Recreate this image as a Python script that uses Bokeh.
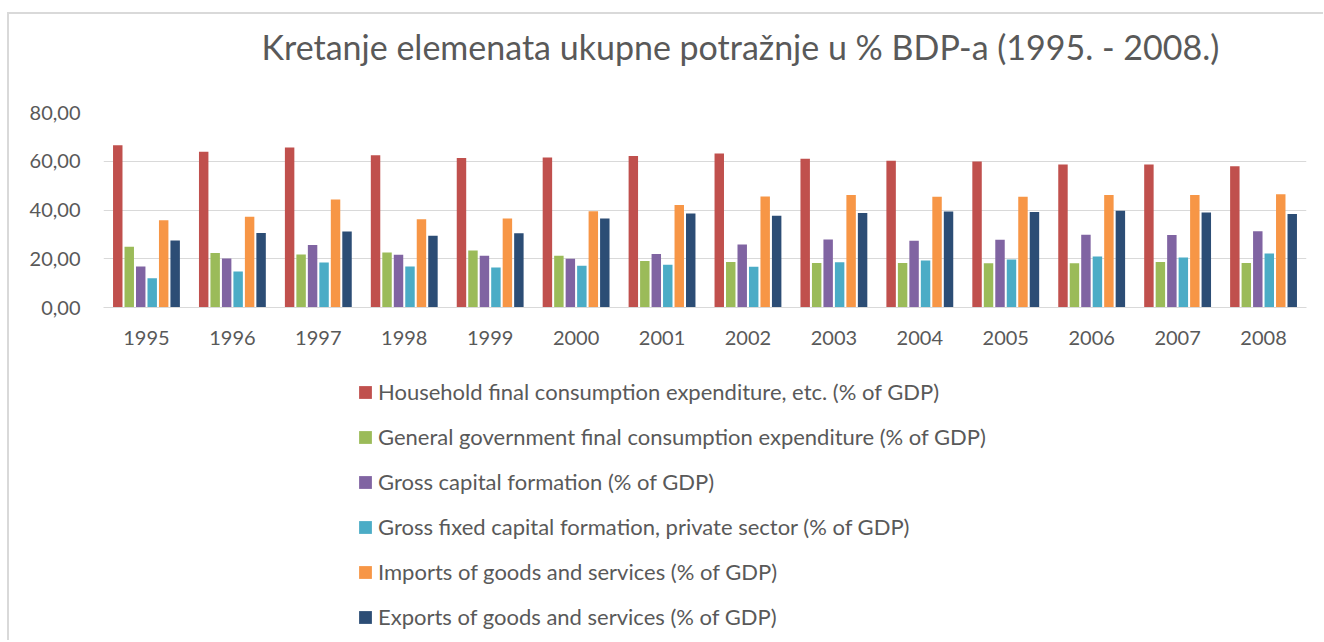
from bokeh.plotting import figure
from bokeh.layouts import column
from bokeh.models import (ColumnDataSource, FactorRange, Range1d, Legend, LegendItem,
                          FixedTicker, CustomJSTickFormatter, Title)
from bokeh.transform import dodge
from bokeh.embed import file_html
from bokeh.resources import INLINE

years = ["1995", "1996", "1997", "1998", "1999", "2000", "2001",
         "2002", "2003", "2004", "2005", "2006", "2007", "2008"]

household = [66.6, 63.9, 65.6, 62.5, 61.3, 61.5, 62.2, 63.2, 61.0, 60.2, 59.9, 58.7, 58.7, 58.0]
government = [24.9, 22.4, 21.7, 22.6, 23.4, 21.2, 19.1, 18.7, 18.3, 18.3, 18.2, 18.2, 18.7, 18.3]
gross_capital = [16.8, 20.1, 25.6, 21.6, 21.2, 20.0, 22.0, 25.8, 27.9, 27.4, 27.8, 29.8, 29.7, 31.3]
gross_fixed_private = [12.0, 14.8, 18.5, 16.8, 16.4, 17.1, 17.5, 16.7, 18.6, 19.3, 19.7, 20.9, 20.5, 22.2]
imports = [35.8, 37.2, 44.3, 36.2, 36.5, 39.5, 42.1, 45.5, 46.2, 45.4, 45.4, 46.2, 46.2, 46.5]
exports = [27.5, 30.6, 31.2, 29.4, 30.5, 36.5, 38.6, 37.6, 38.8, 39.4, 39.2, 39.7, 39.0, 38.4]

series_names = [
    "Household final consumption expenditure, etc. (% of GDP)",
    "General government final consumption expenditure (% of GDP)",
    "Gross capital formation (% of GDP)",
    "Gross fixed capital formation, private sector (% of GDP)",
    "Imports of goods and services (% of GDP)",
    "Exports of goods and services (% of GDP)",
]
series_keys = ["household", "government", "gross_capital", "gross_fixed_private", "imports", "exports"]
colors = ["#C0504D", "#9BBB59", "#8064A2", "#4BACC6", "#F79646", "#2C4D75"]

title_text = "Kretanje elemenata ukupne potražnje u % BDP-a (1995. - 2008.)"
y_ticks = [0, 20, 40, 60, 80]

source = ColumnDataSource(data=dict(
    year=years, household=household, government=government, gross_capital=gross_capital,
    gross_fixed_private=gross_fixed_private, imports=imports, exports=exports))

FONT = "Lato"
TXT = "#595959"
W = 1314

# ---------------- main chart ----------------
x_range = FactorRange(factors=years, range_padding=0)
p = figure(x_range=x_range, y_range=Range1d(0, 80),
           width=W, height=343, output_backend="svg", toolbar_location=None,
           min_border_left=94, min_border_right=W - 1297, min_border_top=98, min_border_bottom=50)
p.outline_line_color = None
p.background_fill_color = "white"
p.border_fill_color = "white"

pitch = 0.1336
bar_w = 0.11
for i, (key, col) in enumerate(zip(series_keys, colors)):
    p.vbar(x=dodge("year", (i - 2.5) * pitch, range=x_range), top=key, width=bar_w,
           source=source, fill_color=col, line_color=None)

p.xgrid.grid_line_color = None
p.ygrid.grid_line_color = "#d9d9d9"
p.ygrid.grid_line_width = 1

p.yaxis.ticker = FixedTicker(ticks=y_ticks)
p.yaxis.formatter = CustomJSTickFormatter(code="return tick.toFixed(2).replace('.', ',');")
p.yaxis.axis_line_color = None
p.yaxis.major_tick_line_color = None
p.yaxis.minor_tick_line_color = None
p.yaxis.major_tick_out = 0
p.yaxis.major_label_standoff = 23
p.yaxis.major_label_text_font = FONT
p.yaxis.major_label_text_font_size = "20px"
p.yaxis.major_label_text_color = TXT

p.xaxis.axis_line_color = "#d9d9d9"
p.xaxis.major_tick_line_color = None
p.xaxis.minor_tick_line_color = None
p.xaxis.major_tick_out = 0
p.xaxis.major_label_standoff = 23
p.xaxis.major_label_text_font = FONT
p.xaxis.major_label_text_font_size = "20px"
p.xaxis.major_label_text_color = TXT

p.add_layout(Title(text=" ", text_font_size="1px", standoff=38), "above")
p.add_layout(Title(text=title_text, align="left", offset=158, text_font=FONT,
                   text_font_size="34px", text_font_style="normal", text_color=TXT,
                   standoff=10, vertical_align="bottom"), "above")

# ---------------- legend panel (zero-width proxy series, only the legend shows) ----------------
p2 = figure(x_range=x_range, y_range=Range1d(-1001, -1000),
            width=W, height=283, output_backend="svg", toolbar_location=None,
            x_axis_type=None, y_axis_type=None,
            min_border_left=94, min_border_right=W - 1297, min_border_top=0, min_border_bottom=0)
p2.outline_line_color = None
p2.background_fill_color = "white"
p2.border_fill_color = "white"

proxies = []
for key, col in zip(series_keys, colors):
    proxies.append(p2.vbar(x="year", top=key, width=0, source=source,
                           fill_color=col, line_color=None))

legend = Legend(items=[LegendItem(label=n, renderers=[r]) for n, r in zip(series_names, proxies)],
                location=(254, 10), orientation="vertical",
                glyph_width=16, glyph_height=16, label_height=27, spacing=18,
                label_standoff=5, padding=0, margin=0,
                label_text_font=FONT, label_text_font_size="22px", label_text_color=TXT,
                border_line_color=None, background_fill_alpha=0)
p2.add_layout(legend)

layout = column(p, p2, spacing=0)
layout.styles = {"border-top": "2px solid #d9d9d9", "border-left": "2px solid #d9d9d9",
                 "margin-top": "12px", "margin-left": "7px"}

open("out.html", "w").write(file_html(layout, INLINE))
